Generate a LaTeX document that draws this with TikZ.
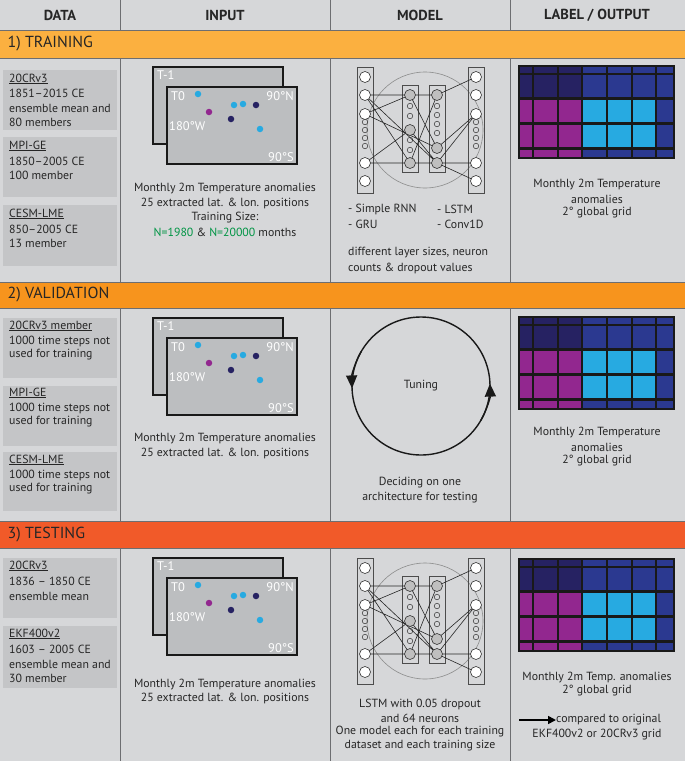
\documentclass[tikz,border=0pt]{standalone}
\usepackage{fontspec}
\setmainfont{PT Sans}
\usetikzlibrary{arrows.meta}
\definecolor{bg}{HTML}{D6D7D9}
\definecolor{box}{HTML}{C4C5C7}
\definecolor{mapg}{HTML}{BCBEC0}
\definecolor{oA}{HTML}{FBB040}
\definecolor{oB}{HTML}{F7941D}
\definecolor{oC}{HTML}{F15A29}
\definecolor{navy}{HTML}{262262}
\definecolor{blu}{HTML}{2B3990}
\definecolor{pur}{HTML}{92278F}
\definecolor{cya}{HTML}{27AAE1}
\definecolor{grn}{HTML}{009444}
\definecolor{sep}{HTML}{6D6E71}
\tikzset{x=1pt,y=-1pt,
 txt/.style={font=\fontsize{11.8}{13}\selectfont,inner sep=0pt,text=black!85},
 dtxt/.style={txt,anchor=west},
 hdr/.style={font=\bfseries\fontsize{14.5}{16}\selectfont,text=black!85},
 band/.style={font=\fontsize{16}{18}\selectfont,anchor=west,text=black!85},
 frame/.style={line width=2.2pt,draw=black!90,fill=mapg},
 wt/.style={text=white,font=\fontsize{12.5}{14}\selectfont,inner sep=0pt},
 dot/.style={circle,inner sep=0pt,minimum size=6.5pt},
 big/.style={circle,draw=black!80,fill=white,line width=0.6pt,minimum size=11pt,inner sep=0pt},
 gbig/.style={circle,draw=black!80,fill=black!25,line width=0.6pt,minimum size=11pt,inner sep=0pt},
 sml/.style={circle,draw=black!80,line width=0.5pt,minimum size=5.5pt,inner sep=0pt},
 col/.style={draw=black!70,line width=0.6pt},
 wire/.style={draw=black!85,line width=0.6pt},
 tarr/.style={black!90,line width=1.4pt,-{Triangle[length=13pt,width=11pt]}}}
\newcommand{\mymap}{%
 \draw[frame] (153,67) rectangle (283,144);
 \node[wt,anchor=north west] at (157,70) {T-1};
 \draw[frame] (167,87) rectangle (297,164);
 \node[wt,anchor=north west] at (171,91) {T0};
 \node[wt,anchor=north east] at (294,91) {90°N};
 \node[wt,anchor=west] at (169,126) {180°W};
 \node[wt,anchor=south east] at (294,162) {90°S};
 \node[dot,fill=cya] at (198,94) {};
 \node[dot,fill=pur] at (209,112) {};
 \node[dot,fill=cya] at (234,105) {};
 \node[dot,fill=cya] at (243,104) {};
 \node[dot,fill=navy] at (256,105) {};
 \node[dot,fill=navy] at (231,119) {};
 \node[dot,fill=cya] at (260,129) {};}
\newcommand{\mygrid}{%
 \fill[black!90] (518,65) rectangle (675,159);
 \foreach \xa/\xb/\c in {520/532/0,534/557/0,559/581/0,583/606/1,608/631/1,633/655/1,657/673/2}{
  \foreach \ya/\yb/\r in {67/73/0,75/97/0,100/122/1,125/147/1,150/157/2}{
   \pgfmathtruncatemacro{\k}{\r*3+\c}
   \ifcase\k \def\cc{navy}\or\def\cc{blu}\or\def\cc{blu}\or
     \def\cc{pur}\or\def\cc{cya}\or\def\cc{blu}\or
     \def\cc{pur}\or\def\cc{blu}\or\def\cc{blu}\fi
   \fill[\cc] (\xa,\ya) rectangle (\xb,\yb);}}}
\newcommand{\mynet}{%
 \draw[black!45,line width=0.6pt] (425,130) circle (58);
 \draw[col] (357,67) rectangle (373,193);
 \draw[col] (402,85) rectangle (418,172);
 \draw[col] (429,85) rectangle (445,172);
 \draw[col] (468,67) rectangle (484,193);
 \foreach \y in {122,130,138,146} {\node[sml] at (365,\y){}; \node[sml] at (476,\y){};}
 \foreach \y in {106,116,140,150} \node[sml] at (410,\y){};
 \foreach \y in {106,115,124,133} \node[sml] at (437,\y){};
 \draw[wire] (365,95)--(410,95) (365,95)--(410,163) (365,114)--(410,95) (365,114)--(437,148)
  (365,163)--(410,163) (365,163)--(410,130) (365,95)--(437,163)
  (410,95)--(437,95) (410,95)--(437,148) (410,130)--(437,163) (410,163)--(437,95)
  (437,95)--(476,77) (437,148)--(476,114) (437,163)--(476,181) (437,163)--(476,114) (410,163)--(476,163);
 \foreach \y in {77,95,114,163,181} {\node[big] at (365,\y){}; \node[big] at (476,\y){};}
 \foreach \y in {95,130,163} \node[gbig] at (410,\y){};
 \foreach \y in {95,148,163} \node[gbig] at (437,\y){};}
\begin{document}
\begin{tikzpicture}
\fill[bg] (0,0) rectangle (685,761);
\useasboundingbox (0,0) rectangle (685,761);
\foreach \x in {120,330,510} \draw[sep,line width=0.8pt] (\x,0)--(\x,761);
\fill[oA] (0,30) rectangle (685,58); \draw[sep] (0,30)--(685,30) (0,58)--(685,58);
\fill[oB] (0,282) rectangle (685,308); \draw[sep] (0,282)--(685,282) (0,308)--(685,308);
\fill[oC] (0,521) rectangle (685,548); \draw[sep] (0,521)--(685,521) (0,548)--(685,548);
\node[band] at (4,44) {1) TRAINING};
\node[band] at (4,295) {2) VALIDATION};
\node[band] at (4,535) {3) TESTING};
\node[hdr] at (60,15) {DATA};
\node[hdr] at (225,15) {INPUT};
\node[hdr] at (420,15) {MODEL};
\node[hdr] at (597,15) {LABEL / OUTPUT};
\foreach \a/\b in {70/130,137/197,205/266,318/378,386/446,452/511,558/618,626/688}
  \fill[box] (3,\a) rectangle (117,\b);
\node[dtxt] at (9,79) {\underline{20CRv3}};
\node[dtxt] at (9,93) {1851–2015 CE};
\node[dtxt] at (9,108) {ensemble mean and};
\node[dtxt] at (9,122) {80 members};
\node[dtxt] at (9,146) {\underline{MPI-GE}};
\node[dtxt] at (9,161) {1850–2005 CE};
\node[dtxt] at (9,175) {100 member};
\node[dtxt] at (9,214) {\underline{CESM-LME}};
\node[dtxt] at (9,229) {850–2005 CE};
\node[dtxt] at (9,243) {13 member};
\node[dtxt] at (9,326) {\underline{20CRv3 member}};
\node[dtxt] at (9,341) {1000 time steps not};
\node[dtxt] at (9,355) {used for training};
\node[dtxt] at (9,393) {\underline{MPI-GE}};
\node[dtxt] at (9,408) {1000 time steps not};
\node[dtxt] at (9,422) {used for training};
\node[dtxt] at (9,460) {\underline{CESM-LME}};
\node[dtxt] at (9,475) {1000 time steps not};
\node[dtxt] at (9,489) {used for training};
\node[dtxt] at (9,566) {\underline{20CRv3}};
\node[dtxt] at (9,581) {1836 – 1850 CE};
\node[dtxt] at (9,596) {ensemble mean};
\node[dtxt] at (9,634) {\underline{EKF400v2}};
\node[dtxt] at (9,649) {1603 – 2005 CE};
\node[dtxt] at (9,664) {ensemble mean and};
\node[dtxt] at (9,678) {30 member};
\mymap
\begin{scope}[shift={(0,251)}]\mymap\end{scope}
\begin{scope}[shift={(0,491)}]\mymap\end{scope}
\node[txt] at (225,189) {Monthly 2m Temperature anomalies};
\node[txt] at (225,203) {25 extracted lat. \& lon. positions};
\node[txt] at (225,218) {Training Size:};
\node[txt] at (225,232) {\textcolor{grn}{N=1980} \& \textcolor{grn}{N=20000} months};
\node[txt] at (225,439) {Monthly 2m Temperature anomalies};
\node[txt] at (225,453) {25 extracted lat. \& lon. positions};
\node[txt] at (225,684) {Monthly 2m Temperature anomalies};
\node[txt] at (225,698) {25 extracted lat. \& lon. positions};
\mynet
\begin{scope}[shift={(0,491)}]\mynet\end{scope}
\node[txt,anchor=west] at (348,209) {- Simple RNN};
\node[txt,anchor=west] at (437,209) {- LSTM};
\node[txt,anchor=west] at (348,224) {- GRU};
\node[txt,anchor=west] at (437,224) {- Conv1D};
\node[txt,anchor=west] at (348,253) {different layer sizes, neuron};
\node[txt,anchor=west] at (348,268) {counts \& dropout values};
\node[txt] at (420,704) {LSTM with 0.05 dropout};
\node[txt] at (420,718) {and 64 neurons};
\node[txt] at (420,732) {One model each for each training};
\node[txt] at (420,746) {dataset and each training size};
\coordinate (tc) at (421,386);
\draw[black!90,line width=1.4pt] (tc) circle (69);
\draw[tarr] ([shift={(30:69)}]tc) arc[start angle=30,end angle=-2,radius=69];
\draw[tarr] ([shift={(210:69)}]tc) arc[start angle=210,end angle=178,radius=69];
\node[txt] (tun) at (tc) {Tuning};
\node[txt] at (420,483) {Deciding on one};
\node[txt] at (420,498) {architecture for testing};
\mygrid
\begin{scope}[shift={(0,251)}]\mygrid\end{scope}
\begin{scope}[shift={(0,493)}]\mygrid\end{scope}
\node[txt] at (597,185) {Monthly 2m Temperature};
\node[txt] at (597,199) {anomalies};
\node[txt] at (597,213) {2° global grid};
\node[txt] at (597,433) {Monthly 2m Temperature};
\node[txt] at (597,447) {anomalies};
\node[txt] at (597,461) {2° global grid};
\node[txt] at (597,677) {Monthly 2m Temp. anomalies};
\node[txt] at (597,691) {2° global grid};
\coordinate (as) at (519,720);
\node[txt,anchor=west] (cmp) at (556,720) {compared to original};
\draw[black,line width=1.6pt,-{Triangle[length=8pt,width=8pt]}] (as) -- (cmp.west);
\node[txt] at (597,735) {EKF400v2 or 20CRv3 grid};
\end{tikzpicture}
\end{document}
